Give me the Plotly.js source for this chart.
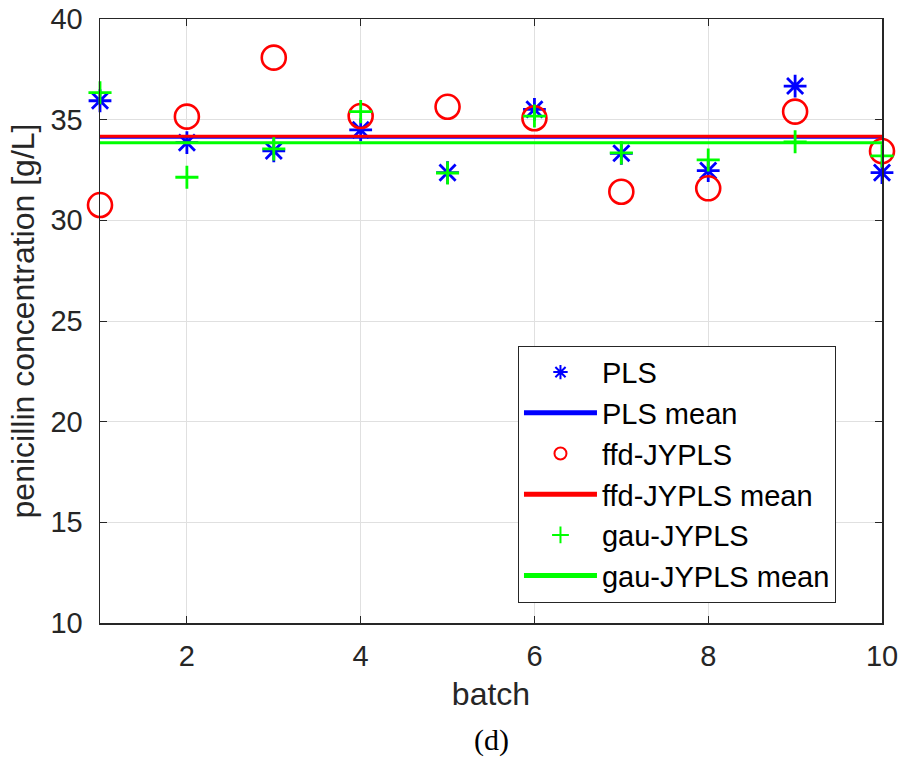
<!DOCTYPE html>
<html>
<head>
<meta charset="utf-8">
<script src="https://cdn.plot.ly/plotly-3.0.1.min.js"></script>
<style>
  html, body { margin: 0; padding: 0; background: #ffffff; }
  #chart { width: 902px; height: 776px; }
</style>
</head>
<body>
<div id="chart"></div>
<script>
// ---- data ----
const batches = [1, 2, 3, 4, 5, 6, 7, 8, 9, 10];
const plsValues = [35.94, 33.86, 33.45, 34.49, 32.37, 35.51, 33.33, 32.47, 36.67, 32.37];
const ffdValues = [30.76, 35.15, 38.08, 35.18, 35.64, 35.07, 31.42, 31.59, 35.40, 33.44];
const gauValues = [36.34, 32.14, 33.55, 35.40, 32.35, 35.18, 33.35, 33.00, 33.90, 33.20];
const plsMean = 34.13;
const ffdMean = 34.18;
const gauMean = 33.85;
const meanX = [1, 10];
const xTicks = [2, 4, 6, 8, 10];
const yTicks = [10, 15, 20, 25, 30, 35, 40];
const seriesNames = ['PLS', 'PLS mean', 'ffd-JYPLS', 'ffd-JYPLS mean', 'gau-JYPLS', 'gau-JYPLS mean'];

const axisColor = '#262626';
const fontFamily = 'Liberation Sans, Arial, Helvetica, sans-serif';

const traces = [
  {
    x: batches, y: plsValues, name: seriesNames[0], type: 'scatter', mode: 'markers',
    cliponaxis: false,
    marker: { symbol: 'asterisk-open', size: 19, color: '#0000ff', line: { color: '#0000ff', width: 2.8 } }
  },
  {
    x: meanX, y: [plsMean, plsMean], name: seriesNames[1], type: 'scatter', mode: 'lines',
    line: { color: '#0000ff', width: 3 }
  },
  {
    x: batches, y: ffdValues, name: seriesNames[2], type: 'scatter', mode: 'markers',
    cliponaxis: false,
    marker: { symbol: 'circle-open', size: 24, color: '#ff0000', line: { color: '#ff0000', width: 2.6 } }
  },
  {
    x: meanX, y: [ffdMean, ffdMean], name: seriesNames[3], type: 'scatter', mode: 'lines',
    line: { color: '#ff0000', width: 3 }
  },
  {
    x: batches, y: gauValues, name: seriesNames[4], type: 'scatter', mode: 'markers',
    cliponaxis: false,
    marker: { symbol: 'cross-thin-open', size: 16.5, color: '#00ff00', line: { color: '#00ff00', width: 2.8 } }
  },
  {
    x: meanX, y: [gauMean, gauMean], name: seriesNames[5], type: 'scatter', mode: 'lines',
    line: { color: '#00ff00', width: 3 }
  }
];

const layout = {
  width: 902,
  height: 776,
  margin: { l: 100, r: 20, t: 19, b: 153 },
  paper_bgcolor: '#ffffff',
  plot_bgcolor: '#ffffff',
  font: { family: fontFamily, size: 29, color: axisColor },
  showlegend: true,
  xaxis: {
    range: [1, 10],
    tickvals: xTicks,
    ticktext: xTicks.map(String),
    ticks: 'inside',
    ticklen: 7,
    tickwidth: 1,
    tickcolor: axisColor,
    showline: true,
    linecolor: axisColor,
    linewidth: 1.5,
    mirror: 'ticks',
    showgrid: true,
    gridcolor: '#e0e0e0',
    gridwidth: 1,
    zeroline: false,
    ticklabelstandoff: 7,
    tickfont: { family: fontFamily, size: 29, color: axisColor },
    title: { text: 'batch', font: { family: fontFamily, size: 32, color: axisColor }, standoff: 11 }
  },
  yaxis: {
    range: [10, 40],
    tickvals: yTicks,
    ticktext: yTicks.map(String),
    ticks: 'inside',
    ticklen: 7,
    tickwidth: 1,
    tickcolor: axisColor,
    showline: true,
    linecolor: axisColor,
    linewidth: 1.5,
    mirror: 'ticks',
    showgrid: true,
    gridcolor: '#e0e0e0',
    gridwidth: 1,
    zeroline: false,
    ticklabelstandoff: 10,
    tickfont: { family: fontFamily, size: 29, color: axisColor },
    title: { text: 'penicillin concentration [g/L]', font: { family: fontFamily, size: 32, color: axisColor }, standoff: 6 }
  },
  legend: {
    x: 0.5345,
    y: 0.459,
    xanchor: 'left',
    yanchor: 'top',
    bgcolor: '#ffffff',
    bordercolor: axisColor,
    borderwidth: 1,
    font: { family: fontFamily, size: 29, color: '#000000' },
    itemsizing: 'constant',
    itemwidth: 73,
    tracegroupgap: 0
  },
  annotations: [
    {
      text: '(d)',
      xref: 'paper', yref: 'paper',
      x: 0.5, y: -0.1937,
      xanchor: 'center', yanchor: 'middle',
      showarrow: false,
      font: { family: 'Liberation Serif, Times New Roman, serif', size: 30, color: '#000000' }
    }
  ]
};

Plotly.newPlot('chart', traces, layout, { displayModeBar: false, staticPlot: true });
</script>
</body>
</html>
